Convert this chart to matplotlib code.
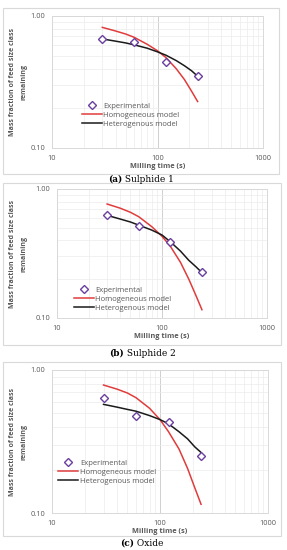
import matplotlib.pyplot as plt
from matplotlib.patches import Rectangle
from matplotlib.ticker import FixedLocator, NullFormatter, LogLocator

plt.rcParams["font.family"] = ["Open Sans", "DejaVu Sans"]

# =========================
# DATA
# =========================
t_exp = [30, 60, 120, 240]
t_model = [30, 40, 50, 60, 80, 100, 120, 150, 180, 210, 240]

exp_a = [0.67, 0.64, 0.45, 0.35]
homo_a = [0.82, 0.77, 0.73, 0.69, 0.61, 0.545, 0.485, 0.40, 0.33, 0.27, 0.225]
hetero_a = [0.67, 0.645, 0.625, 0.605, 0.57, 0.535, 0.505, 0.46, 0.42, 0.385, 0.35]

exp_b = [0.625, 0.52, 0.39, 0.226]
homo_b = [0.765, 0.71, 0.66, 0.61, 0.51, 0.43, 0.36, 0.27, 0.20, 0.15, 0.116]
hetero_b = [0.625, 0.585, 0.555, 0.525, 0.48, 0.44, 0.39, 0.33, 0.28, 0.25, 0.225]

exp_c = [0.64, 0.48, 0.43, 0.25]
homo_c = [0.785, 0.735, 0.69, 0.64, 0.54, 0.45, 0.37, 0.28, 0.205, 0.15, 0.115]
hetero_c = [0.575, 0.55, 0.53, 0.515, 0.48, 0.45, 0.42, 0.37, 0.33, 0.29, 0.265]

captions = [("(a)", "Sulphide 1"), ("(b)", "Sulphide 2"), ("(c)", "Oxide")]

# =========================
# LAYOUT (pixels)
# =========================
W, H = 287, 550
fig = plt.figure(figsize=(W / 100, H / 100), dpi=100)

# axes boxes: left, right, top, bottom
boxes = [(52, 263, 16, 148), (57, 267, 189, 318), (52, 268, 370, 513)]
frames = [(3, 279, 8, 174), (3, 281, 183, 345), (3, 281, 362, 536)]
caption_y = [179, 353, 543]
ylab_x = (13, 24)
legend_anchor = [(0.142, 0.25), (0.08, 0.147), (0.03, 0.287)]

grey = "#595959"
panels = [(exp_a, homo_a, hetero_a), (exp_b, homo_b, hetero_b), (exp_c, homo_c, hetero_c)]

fig.canvas.draw()
renderer = fig.canvas.get_renderer()

for i, (exp, homo, hetero) in enumerate(panels):
    fl, fr, ft, fb = frames[i]
    fig.patches.append(Rectangle((fl / W, 1 - fb / H), (fr - fl) / W, (fb - ft) / H,
                                 transform=fig.transFigure, fill=False,
                                 edgecolor="#d9d9d9", linewidth=0.8))
    l, r, t, b = boxes[i]
    ax = fig.add_axes([l / W, 1 - b / H, (r - l) / W, (b - t) / H])
    ax.set_xscale("log")
    ax.set_yscale("log")
    ax.set_xlim(10, 1000)
    ax.set_ylim(0.1, 1.0)

    ax.plot(t_model, homo, color="#e03c3c", lw=1.1, label="Homogeneous model", zorder=3)
    ax.plot(t_model, hetero, color="#1a1a1a", lw=1.1, label="Heterogenous model", zorder=3)
    ax.plot(t_exp, exp, ls="none", marker="D", ms=3.6, mfc="white", mec="#6a3fa0",
            mew=1.0, label="Experimental", zorder=4)

    ax.xaxis.set_major_locator(FixedLocator([10, 100, 1000]))
    ax.yaxis.set_major_locator(FixedLocator([0.1, 1.0]))
    ax.set_xticklabels(["10", "100", "1000"])
    ax.set_yticklabels(["0.10", "1.00"])
    ax.xaxis.set_minor_locator(LogLocator(subs=range(2, 10)))
    ax.yaxis.set_minor_locator(LogLocator(subs=range(2, 10)))
    ax.xaxis.set_minor_formatter(NullFormatter())
    ax.yaxis.set_minor_formatter(NullFormatter())
    ax.grid(which="major", color="#d0d0d0", lw=0.7)
    ax.grid(which="minor", color="#ececec", lw=0.5)
    ax.tick_params(which="both", length=0, labelsize=5.3, colors=grey, pad=5)
    for s in ax.spines.values():
        s.set_color("#d9d9d9")
        s.set_linewidth(0.7)

    ax.set_xlabel("Milling time (s)", fontsize=5.3, fontweight="bold", color=grey, labelpad=1)
    fig.text(ylab_x[0] / W, 1 - (t + b) / 2 / H, "Mass fraction of feed size class",
             rotation=90, ha="center", va="center", fontsize=5, fontweight="bold", color=grey)
    fig.text(ylab_x[1] / W, 1 - (t + b) / 2 / H, "remaining",
             rotation=90, ha="center", va="center", fontsize=5, fontweight="bold", color=grey)

    h, lab = ax.get_legend_handles_labels()
    order = [2, 0, 1]
    ax.legend([h[k] for k in order], [lab[k] for k in order], loc="center left",
              bbox_to_anchor=legend_anchor[i], fontsize=5.5, frameon=False,
              handlelength=2.6, handletextpad=0.2, labelspacing=0.2, labelcolor=grey,
              borderaxespad=0, borderpad=0)

    # caption: bold label + regular text, centred as one piece
    bold, rest = captions[i]
    cx = (fl + fr) / 2
    cy = 1 - caption_y[i] / H
    t1 = fig.text(0, cy, bold, ha="left", va="center", fontsize=6.5,
                  family="DejaVu Serif", fontweight="bold", color="black")
    t2 = fig.text(0, cy, " " + rest, ha="left", va="center", fontsize=6.5,
                  family="DejaVu Serif", color="black")
    w1 = t1.get_window_extent(renderer).width
    w2 = t2.get_window_extent(renderer).width
    x0 = cx - (w1 + w2) / 2
    t1.set_x(x0 / W)
    t2.set_x((x0 + w1) / W)

fig.savefig("out.png", dpi=100)
